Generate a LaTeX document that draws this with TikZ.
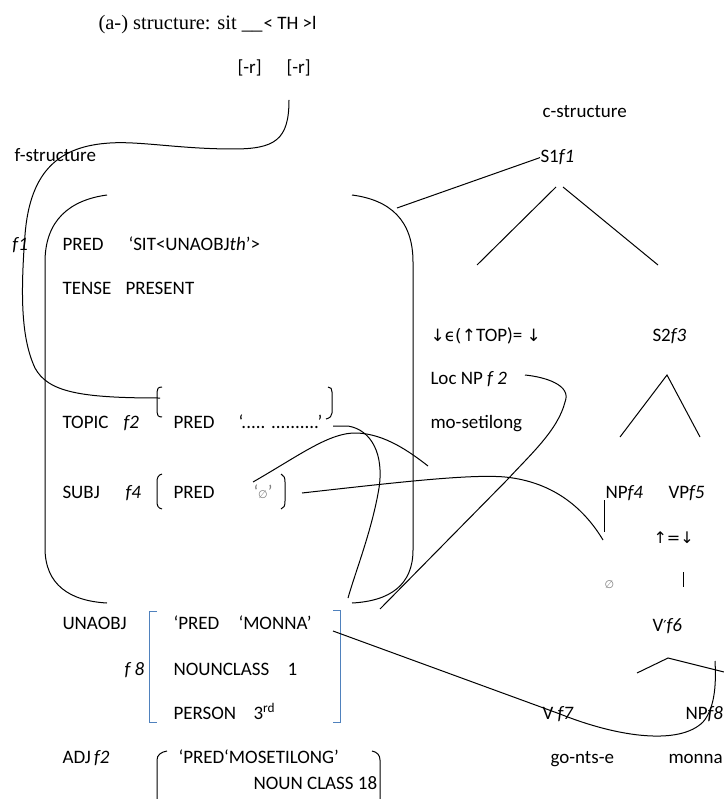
\documentclass[tikz,border=0pt]{standalone}
\usepackage{fontspec}
\setmainfont{Carlito}
\newfontfamily\timesf{Liberation Serif}
\newfontfamily\dejavu{DejaVu Sans}
\definecolor{fblue}{RGB}{79,129,189}
\begin{document}
\begin{tikzpicture}[x=1pt,y=-1pt,line width=1pt,
  lbl/.style={anchor=base west, inner sep=0pt, font=\fontsize{19}{22}\selectfont},
  bbr/.style={draw=fblue, line width=1pt}]
\useasboundingbox (0,0) rectangle (723,799);

% ---------- texts ----------
\node[lbl, font=\fontsize{20.5}{24}\timesf] (title) at (98,29.5) {(a-) structure: sit \_\_};
\node[lbl] (th) at (263,29.5) {< TH >l};
\node[lbl] (r1) at (237,74) {[-r]};
\node[lbl] (r2) at (286,74) {[-r]};
\node[lbl] (fs) at (14,162) {f-structure};
\node[lbl] (cs) at (542,118) {c-structure};
\node[lbl] (s1) at (540,163) {S1\textit{f1}};
\node[lbl] (f1) at (12,251) {\textit{f1}};
\node[lbl] (pred1) at (62,251) {PRED};
\node[lbl] (sit) at (128,251) {‘SIT<UNAOBJ\textit{th}’>};
\node[lbl] (tense) at (62,294) {TENSE};
\node[lbl] (present) at (125,294) {PRESENT};
\node[lbl] (topeq) at (430,341) {{\dejavu\fontsize{17}{20}\selectfont ↓ϵ(↑}TOP)= {\dejavu\fontsize{17}{20}\selectfont ↓}};
\node[lbl] (s2) at (652,341) {S2\textit{f3}};
\node[lbl] (loc) at (430,384) {Loc NP \textit{f 2}};
\node[lbl] (moset) at (430,428) {mo-setilong};
\node[lbl] (topic) at (62,428) {TOPIC};
\node[lbl] (f2) at (123,428) {\textit{f2}};
\node[lbl] (pred2) at (173,428) {PRED};
\node[lbl] (dots) at (238,428) {‘..... ..........’};
\node[lbl] (subj) at (62,498) {SUBJ};
\node[lbl] (f4) at (125,498) {\textit{f4}};
\node[lbl] (pred3) at (173,498) {PRED};
\node[lbl, text=gray] (empty1) at (253,498) {‘{\dejavu\fontsize{11}{13}\selectfont ∅}’};
\node[lbl] (np4) at (605,498) {NP\textit{f4}};
\node[lbl] (vp5) at (668,498) {VP\textit{f5}};
\node[lbl] (ueq) at (653,543) {\dejavu\fontsize{16}{19}\selectfont ↑=↓};
\node[lbl, text=gray] (empty2) at (604,588) {\dejavu\fontsize{11}{13}\selectfont ∅};
\node[lbl] (vbar) at (652,631) {V{\dejavu\fontsize{15}{18}\selectfont ′}\textit{f6}};
\node[lbl] (unaobj) at (62,629) {UNAOBJ};
\node[lbl] (pred4) at (173,629) {‘PRED};
\node[lbl] (monnaq) at (238,629) {‘MONNA’};
\node[lbl] (f8) at (124,675) {\textit{f 8}};
\node[lbl] (nounclass) at (173,675) {NOUNCLASS};
\node[lbl] (one) at (287,675) {1};
\node[lbl] (person) at (173,719) {PERSON};
\node[lbl] (third) at (253,719) {3\textsuperscript{rd}};
\node[lbl] (vf7) at (542,719) {V \textit{f7}};
\node[lbl] (np8) at (685,719) {NP\textit{f8}};
\node[lbl] (adj) at (62,763) {ADJ\,\textit{f2}};
\node[lbl] (predmos) at (178,763) {‘PRED‘MOSETILONG’};
\node[lbl] (nc18) at (253,789) {NOUN CLASS 18};
\node[lbl] (gonts) at (550,763) {go-nts-e};
\node[lbl] (monna) at (668,763) {monna};

% ---------- big f-structure bracket ----------
\draw (107,195) .. controls (70,200) and (45,220) .. (45,262) -- (45,548)
      .. controls (45,585) and (70,601) .. (107,603);
\draw (352,195) .. controls (390,200) and (413,220) .. (413,262) -- (413,550)
      .. controls (413,585) and (390,601) .. (352,603);

% TOPIC brackets
\draw (162,387) .. controls (158,387) and (157,389) .. (157,392) -- (157,412)
      .. controls (157,415) and (158,417) .. (162,417);
\draw (328,387) .. controls (331,387) and (332,389) .. (332,392) -- (332,413)
      .. controls (332,416) and (330,418) .. (326,419);
% SUBJ brackets
\draw (162,474) .. controls (158,475) and (157,478) .. (157,482) -- (157,501)
      .. controls (157,506) and (158,508) .. (162,509);
\draw (281,474) .. controls (284,475) and (285,478) .. (285,482) -- (285,501)
      .. controls (285,506) and (284,508) .. (281,509);
% UNAOBJ blue brackets
\draw[bbr] (157,611) -- (149,611) -- (149,722) -- (157,722);
\draw[bbr] (333,610) -- (340,610) -- (340,722) -- (333,722);
% ADJ brackets
\draw (167,751) .. controls (161,752) and (157,755) .. (157,760) -- (157,800);
\draw (372,751) .. controls (377,752) and (380,755) .. (380,760) -- (380,800);

% ---------- c-structure tree ----------
\coordinate (brk) at (397,208);
\draw (brk) -- (s1.west);
\draw (556,187) -- (477,265);
\draw (563,187) -- (658,265);
\draw (620,437) -- (667,375) -- (700,437);
\draw (604,500) -- (604,532);
\draw (683,572) -- (683,587);
\draw (637,673) -- (668,658) -- (724,672);

% ---------- mapping curves ----------
\coordinate (rstart) at (289,100);
\draw (rstart) .. controls (289,140) and (275,149) .. (233,149)
      .. controls (180,149) and (140,141) .. (110,143)
      .. controls (60,146) and (30,170) .. (25,235)
      .. controls (20,300) and (22,340) .. (35,368)
      .. controls (48,392) and (80,398) .. (160,398);
\draw (333,426) -- (348,426) .. controls (372,430) and (384,455) .. (379,488)
      .. controls (372,530) and (356,570) .. (348,598);
\draw (253,482) .. controls (300,455) and (330,432) .. (357,433)
      .. controls (385,434) and (410,452) .. (428,466);
\draw (302,493) .. controls (400,482) and (470,474) .. (505,477)
      .. controls (555,482) and (585,510) .. (603,540);
\draw (525,375) .. controls (545,377) and (572,385) .. (565,402)
      .. controls (558,430) and (530,455) .. (507,480) -- (380,609);
\draw (333,631) -- (560,714) .. controls (620,738) and (680,745) .. (703,722)
      .. controls (716,707) and (716,680) .. (715,661);
\end{tikzpicture}
\end{document}
